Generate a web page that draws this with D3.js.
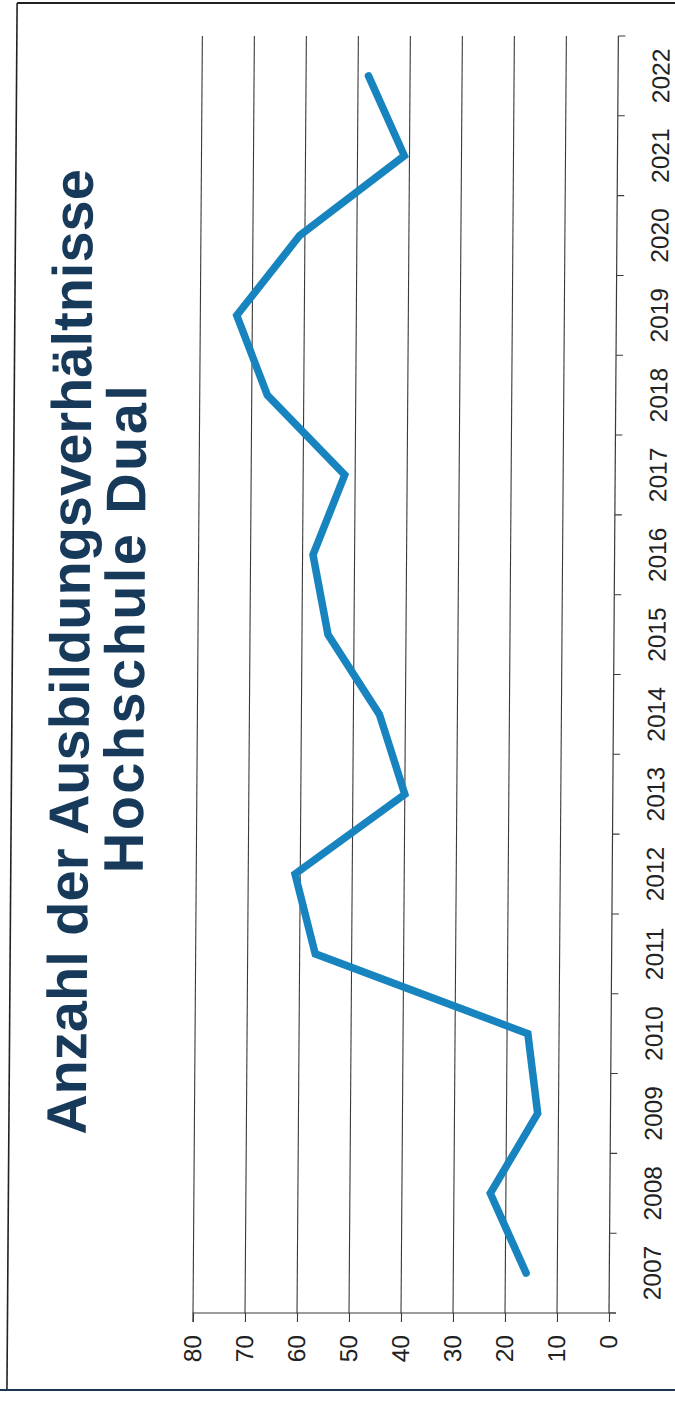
<!DOCTYPE html>
<html>
<head>
<meta charset="utf-8">
<script src="https://cdn.jsdelivr.net/npm/d3@7/dist/d3.min.js"></script>
<style>
  html, body { margin: 0; padding: 0; background: #fff; }
  svg { display: block; }
</style>
</head>
<body>
<script>
// Anzahl der Ausbildungsverhältnisse – Hochschule Dual, 2007–2022
const years = ["2007","2008","2009","2010","2011","2012","2013","2014",
               "2015","2016","2017","2018","2019","2020","2021","2022"];
const counts = [16, 23, 14, 16, 57, 61, 40, 45, 55, 58, 52, 67, 73, 61, 41, 48];
const valueTicks = [0, 10, 20, 30, 40, 50, 60, 70, 80];
const titleLines = ["Anzahl der Ausbildungsverhältnisse", "Hochschule Dual"];

const W = 675, H = 1402;
const svg = d3.select("body").append("svg")
  .attr("width", W).attr("height", H);

svg.append("rect").attr("width", W).attr("height", H).attr("fill", "#fff");

// page is printed sideways and slightly sheared by the scanner
const page = svg.append("g")
  .attr("transform", `translate(${W/2},${H/2}) skewX(-0.42) translate(${-W/2},${-H/2})`);

// page frame
page.append("line").attr("x1", 12).attr("x2", W + 5).attr("y1", 3).attr("y2", 3)
  .attr("stroke", "#222").attr("stroke-width", 2);
page.append("line").attr("x1", 12).attr("x2", 12).attr("y1", 3).attr("y2", 1390)
  .attr("stroke", "#222").attr("stroke-width", 1.6);
page.append("line").attr("x1", 0).attr("x2", W + 5).attr("y1", 1390).attr("y2", 1390)
  .attr("stroke", "#1d3550").attr("stroke-width", 2.2);

// chart drawn in landscape, then turned a quarter to the left
const chart = page.append("g").attr("transform", `translate(0,${H}) rotate(-90)`);

const plotLeft = 89, plotRight = 1366;      // along the year axis
const plotTop = 197.5, plotBottom = 613.5;  // along the value axis

const x = d3.scaleBand().domain(years).range([plotLeft, plotRight]).paddingInner(0).paddingOuter(0);
const y = d3.scaleLinear().domain([0, 80]).range([plotBottom, plotTop]);

const gridColor = "#3a3a3a";
const labelFont = "Liberation Sans, Arial, sans-serif";

// horizontal gridlines
chart.append("g").selectAll("line")
  .data(valueTicks.filter(v => v > 0))
  .join("line")
  .attr("x1", plotLeft).attr("x2", plotRight)
  .attr("y1", d => y(d)).attr("y2", d => y(d))
  .attr("stroke", gridColor).attr("stroke-width", 1.1);

// value axis
const yAxis = d3.axisLeft(y).tickValues(valueTicks).tickSize(9).tickPadding(13);
const yg = chart.append("g").attr("transform", `translate(${plotLeft},0)`).call(yAxis);
yg.select(".domain").attr("stroke", gridColor).attr("stroke-width", 1.2)
  .attr("d", `M-9,${plotTop}H0V${plotBottom + 7}`);
yg.selectAll(".tick line").attr("stroke", gridColor).attr("stroke-width", 1.1);
yg.selectAll(".tick text")
  .attr("font-family", labelFont)
  .attr("font-size", 24.5).attr("fill", "#222");

// year axis with ticks on category boundaries
const xAxis = d3.axisBottom(x).tickSize(0).tickPadding(34);
const xg = chart.append("g").attr("transform", `translate(0,${plotBottom})`).call(xAxis);
xg.select(".domain").attr("stroke", gridColor).attr("stroke-width", 1.2)
  .attr("d", `M${plotLeft},0H${plotRight}`);
xg.selectAll(".tick text")
  .attr("font-family", labelFont)
  .attr("font-size", 24.5).attr("fill", "#222");
const bounds = years.map(d => x(d)).concat([plotRight]);
xg.append("g").selectAll("line").data(bounds).join("line")
  .attr("x1", d => d).attr("x2", d => d)
  .attr("y1", 0).attr("y2", 7)
  .attr("stroke", gridColor).attr("stroke-width", 1.1);

// data line
const line = d3.line()
  .x((d, i) => x(years[i]) + x.bandwidth() / 2)
  .y(d => y(d));
chart.append("path")
  .datum(counts)
  .attr("d", line)
  .attr("fill", "none")
  .attr("stroke", "#1784bf")
  .attr("stroke-width", 7.5)
  .attr("stroke-linejoin", "miter")
  .attr("stroke-linecap", "round");

// title, two centred lines
const titleCenters = [H - 652, H - 628];
const titleSpacing = [0, 2.4];
chart.append("g").selectAll("text").data(titleLines).join("text")
  .attr("x", (d, i) => titleCenters[i])
  .attr("y", (d, i) => 89 + i * 55)
  .attr("font-family", labelFont)
  .attr("font-weight", "bold")
  .attr("font-size", 56)
  .attr("letter-spacing", (d, i) => titleSpacing[i])
  .attr("fill", "#17395a")
  .attr("text-anchor", "middle")
  .text(d => d);
</script>
</body>
</html>
